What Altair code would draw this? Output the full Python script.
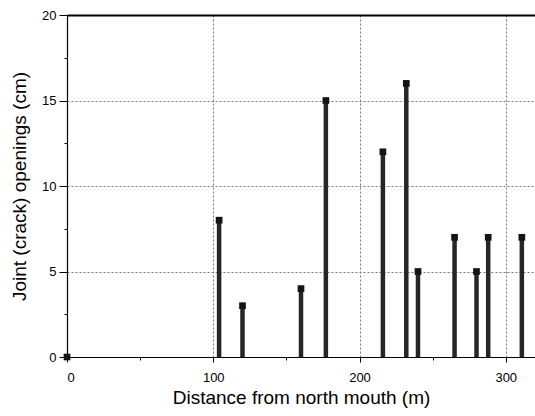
import altair as alt
import pandas as pd

distance = [0, 104, 120, 160, 177, 216, 232, 240, 265, 280, 288, 311]
opening = [0, 8, 3, 4, 15, 12, 16, 5, 7, 5, 7, 7]
x_ticks = [0, 50, 100, 150, 200, 250, 300]
y_ticks = [0, 2.5, 5, 7.5, 10, 12.5, 15, 17.5, 20]

df = pd.DataFrame({"distance": distance, "opening": opening})

FONT = "Liberation Sans"
xs = alt.Scale(domain=[0, 320], nice=False, zero=False)
ys = alt.Scale(domain=[0, 20], nice=False)

x_axis = alt.Axis(
    values=x_ticks,
    title="Distance from north mouth (m)",
    labelExpr="datum.value % 100 == 0 ? datum.label : ''",
    grid=True,
    gridColor="#777",
    gridDash=[2, 2],
    gridWidth=1,
    gridOpacity={"condition": {"test": "datum.value % 100 != 0 || datum.value == 0", "value": 0}, "value": 1},
    tickSize={"condition": {"test": "datum.value % 100 != 0", "value": 3}, "value": 5},
    tickColor="black",
    domainColor="black",
    domainWidth=1.2,
    labelFont=FONT,
    labelFontSize=13,
    labelColor="black",
    labelPadding=9,
    titleFont=FONT,
    titleFontSize=19,
    titleFontWeight="normal",
    titleColor="black",
    titlePadding=4,
)

y_axis = alt.Axis(
    values=y_ticks,
    title="Joint (crack) openings (cm)",
    labelExpr="datum.value % 5 == 0 ? datum.label : ''",
    grid=True,
    gridColor={"condition": {"test": "datum.value == 20", "value": "black"}, "value": "#777"},
    gridDash={"condition": {"test": "datum.value == 20", "value": [1, 0]}, "value": [2, 2]},
    gridWidth={"condition": {"test": "datum.value == 20", "value": 1.8}, "value": 1},
    gridOpacity={"condition": {"test": "datum.value % 5 != 0 || datum.value == 0", "value": 0}, "value": 1},
    tickSize={"condition": {"test": "datum.value % 5 != 0", "value": 3}, "value": 8},
    tickColor="black",
    domainColor="black",
    domainWidth=1.2,
    labelFont=FONT,
    labelFontSize=13,
    labelColor="black",
    labelPadding=3,
    titleFont=FONT,
    titleFontSize=19,
    titleFontWeight="normal",
    titleColor="black",
    titlePadding=12,
)

base = alt.Chart(df)

stems = base.mark_rule(color="#262626", strokeWidth=4.5).encode(
    x=alt.X("distance:Q", scale=xs, axis=x_axis),
    y=alt.Y("opening:Q", scale=ys, axis=y_axis),
    y2=alt.datum(0),
)

heads = base.mark_square(color="#141414", size=45, opacity=1).encode(
    x=alt.X("distance:Q", scale=xs),
    y=alt.Y("opening:Q", scale=ys),
)

chart = (
    alt.layer(stems, heads)
    .properties(
        width=468,
        height=342,
        padding={"left": 67, "top": 15, "right": 0, "bottom": 59},
        autosize=alt.AutoSizeParams(type="none"),
        background="white",
    )
    .configure_view(stroke=None)
)

chart.save("out.html", embed_options={"renderer": "svg", "actions": False})
